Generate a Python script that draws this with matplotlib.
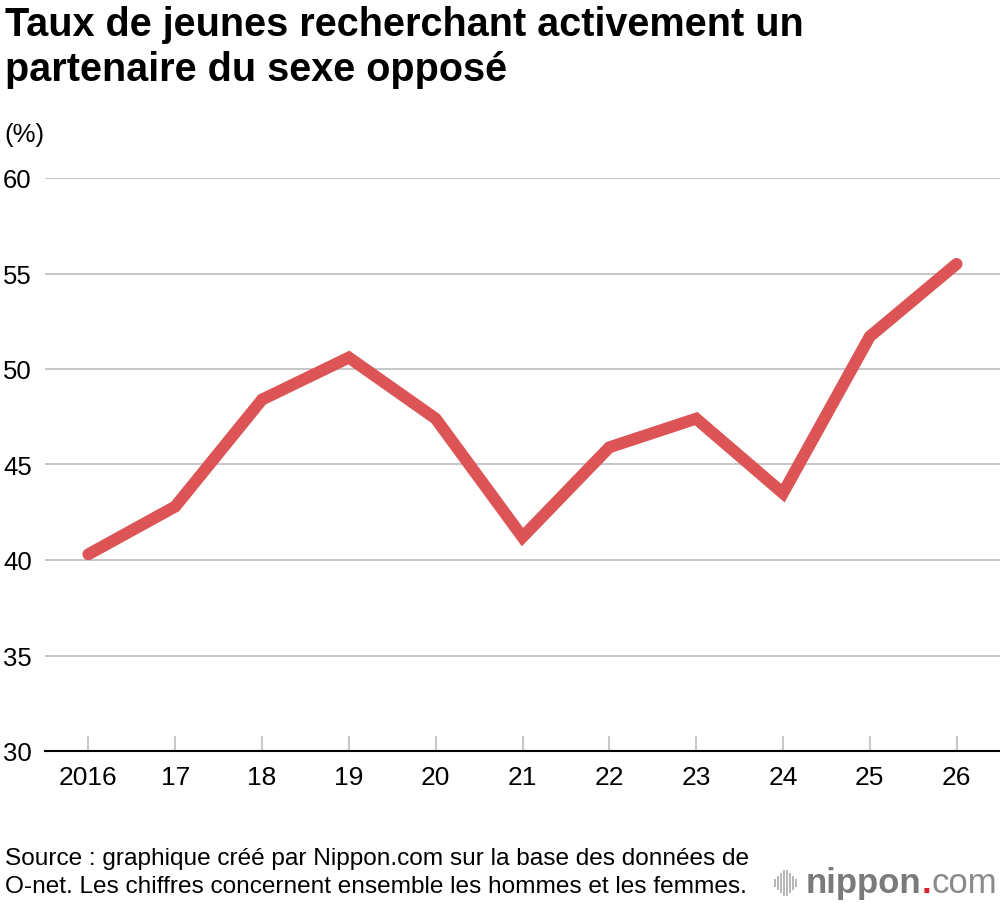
import matplotlib
matplotlib.use("Agg")
import matplotlib.pyplot as plt
from matplotlib.patches import Rectangle
import matplotlib.transforms as mtrans

plt.rcParams['font.family'] = ['Liberation Sans', 'DejaVu Sans']

years = ["2016", "17", "18", "19", "20", "21", "22", "23", "24", "25", "26"]
values = [40.3, 42.8, 48.4, 50.6, 47.4, 41.2, 45.9, 47.4, 43.5, 51.7, 55.5]
yticks = [30, 35, 40, 45, 50, 55, 60]

W, H = 1000, 904
fig = plt.figure(figsize=(W / 100, H / 100), dpi=100)
ax = fig.add_axes([45 / W, 1 - 752 / H, 1 - 45 / W, (752 - 179) / H])

x = list(range(len(years)))
ax.plot(x, values, color="#dc5456", lw=8.6, solid_capstyle="round",
        solid_joinstyle="miter", clip_on=False, zorder=3)

ax.set_xlim(-0.5, len(years) - 0.5)
ax.set_ylim(30, 60)
ax.set_yticks(yticks)
ax.set_xticks(x)
ax.set_xticklabels(years)
for s in ["top", "right", "left"]:
    ax.spines[s].set_visible(False)
ax.spines["bottom"].set_color("black")
ax.spines["bottom"].set_linewidth(1.5)
ax.grid(axis="y", color="#c8c8c8", lw=1.5)
ax.set_axisbelow(True)
ax.tick_params(axis="y", length=0, labelsize=18.5, pad=0)
for lab in ax.get_yticklabels():
    lab.set_horizontalalignment("left")
offset = mtrans.ScaledTranslation(-42 / 100, 0, fig.dpi_scale_trans)
for lab in ax.get_yticklabels():
    lab.set_transform(lab.get_transform() + offset)
ax.tick_params(axis="x", direction="in", length=11, width=1.5, color="#c8c8c8",
               labelsize=19, pad=10)

fig.text(5 / W, 1 - 6 / H, "Taux de jeunes recherchant activement un\npartenaire du sexe opposé",
         fontsize=28.5, fontweight="bold", va="top", ha="left", linespacing=1.22)
fig.text(4 / W, 1 - 135 / H, "(%)", fontsize=18.5, va="center", ha="left")
fig.text(5 / W, 1 - 873 / H, "Source : graphique créé par Nippon.com sur la base des données de\n"
         "O-net. Les chiffres concernent ensemble les hommes et les femmes.",
         fontsize=17.6, va="center", ha="left", linespacing=1.3)

# logo
bar_h = [8, 14, 20, 26, 26, 20, 14, 8]
for i, h in enumerate(bar_h):
    xx = 774 + i * 3.0
    fig.patches.append(Rectangle((xx / W, (1 - 884 / H) - h / 2 / H), 1.5 / W, h / H,
                                 transform=fig.transFigure, color="#b8b8b8", lw=0))
t1 = fig.text(806 / W, 1 - 884 / H, "nippon", fontsize=25, fontweight="bold",
              color="#7a7a7a", va="center", ha="left")
fig.canvas.draw()
r = fig.canvas.get_renderer()
bb = t1.get_window_extent(r)
t2 = fig.text(bb.x1 / W, 1 - 884 / H, ".", fontsize=25, fontweight="bold",
              color="#e0202a", va="center", ha="left")
bb2 = t2.get_window_extent(r)
fig.text(bb2.x1 / W, 1 - 884 / H, "com", fontsize=25, color="#8a8a8a",
         va="center", ha="left")

fig.savefig("out.png", dpi=100)
